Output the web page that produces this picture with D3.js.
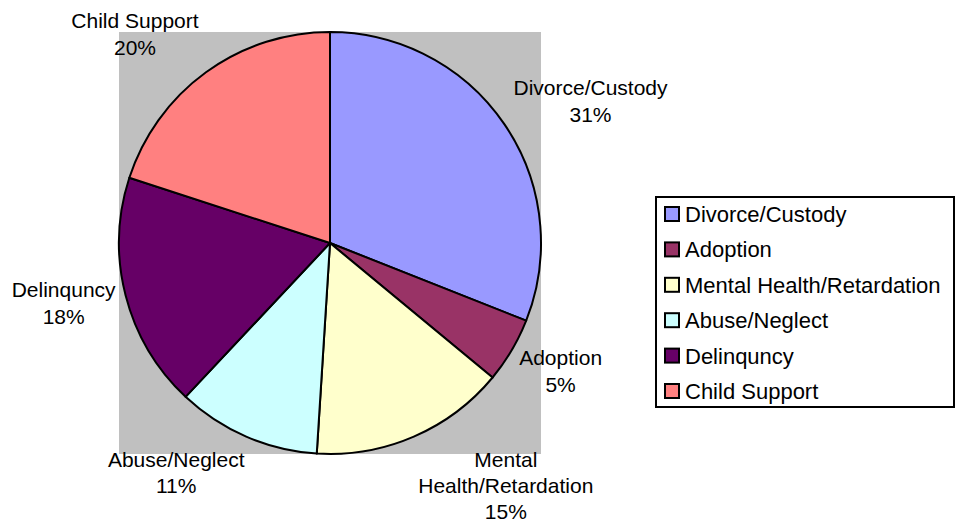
<!DOCTYPE html>
<html>
<head>
<meta charset="utf-8">
<script src="https://cdn.jsdelivr.net/npm/d3@7"></script>
<style>
body { margin: 0; background: #fff; }
svg { display: block; font-family: "Liberation Sans", Arial, sans-serif; }
</style>
</head>
<body>
<svg></svg>
<script>
var categories = ['Divorce/Custody', 'Adoption', 'Mental Health/Retardation', 'Abuse/Neglect', 'Delinqu' + 'ncy', 'Child Support'];
var shares = [31, 5, 15, 11, 18, 20];
var colors = ['#9999FF', '#993366', '#FFFFCC', '#CCFFFF', '#660066', '#FF8080'];
// label text, wrapped the way the source chart wraps it
var labelLines = [
    ['Divorce/Custody', '31%'],
    ['Adoption', '5%'],
    ['Mental', 'Health/Retardation', '15%'],
    ['Abuse/Neglect', '11%'],
    ['Delinqu' + 'ncy', '18%'],
    ['Child Support', '20%']
];

var data = categories.map(function (c, i) {
    return { name: c, value: shares[i], color: colors[i], lines: labelLines[i] };
});

render(data);

function render(data) {
    var W = 957, H = 522;
    var cx = 330, cy = 243, r = 211;
    var lh = 26.3;

    var root = d3.select('svg')
        .attr('width', W)
        .attr('height', H);

    root.append('rect')
        .attr('x', cx - r).attr('y', cy - r)
        .attr('width', 2 * r).attr('height', 2 * r)
        .attr('fill', '#C0C0C0');

    var pie = d3.pie()
        .sort(null)
        .value(function (d) { return d.value; });
    var arc = d3.arc().innerRadius(0).outerRadius(r);
    var arcs = pie(data);

    var g = root.append('g')
        .attr('transform', 'translate(' + cx + ',' + cy + ')');

    g.selectAll('path.slice')
        .data(arcs)
        .enter()
        .append('path')
        .attr('class', 'slice')
        .attr('d', arc)
        .attr('fill', function (d) { return d.data.color; })
        .attr('stroke', '#000')
        .attr('stroke-width', 2)
        .attr('stroke-linejoin', 'round');

    // labels sit outside the rim; nudges (from the rim point, to the first baseline)
    // mimic Excel's best-fit placement
    var shift = [[86, -29], [49, 15], [92, 30], [-70, 30], [-62, 2], [-71, -44]];
    var edge = d3.arc().innerRadius(r).outerRadius(r);

    var labels = g.selectAll('text.lbl')
        .data(arcs)
        .enter()
        .append('text')
        .attr('class', 'lbl')
        .attr('font-size', 21)
        .attr('text-anchor', 'middle')
        .attr('fill', '#000');

    labels.each(function (d, i) {
        var p = edge.centroid(d);
        var x = p[0] + shift[i][0];
        var y = p[1] + shift[i][1];
        d3.select(this).selectAll('tspan')
            .data(d.data.lines)
            .enter()
            .append('tspan')
            .attr('x', x)
            .attr('y', function (t, j) { return y + j * lh; })
            .text(function (t) { return t; });
    });

    // legend
    var lx = 656, ly = 197, lw = 298, lhgt = 210, rowH = 35.4;
    var legend = root.append('g');
    legend.append('rect')
        .attr('x', lx).attr('y', ly)
        .attr('width', lw).attr('height', lhgt)
        .attr('fill', '#fff')
        .attr('stroke', '#000')
        .attr('stroke-width', 2);

    var items = legend.selectAll('g.item')
        .data(data)
        .enter()
        .append('g')
        .attr('class', 'item')
        .attr('transform', function (d, i) {
            return 'translate(' + (lx + 9) + ',' + (ly + 17.5 + i * rowH) + ')';
        });
    items.append('rect')
        .attr('x', 0).attr('y', -7.5)
        .attr('width', 14).attr('height', 14)
        .attr('fill', function (d) { return d.color; })
        .attr('stroke', '#000')
        .attr('stroke-width', 2);
    items.append('text')
        .attr('x', 20).attr('y', 7.5)
        .attr('font-size', 22)
        .text(function (d) { return d.name; });
}
</script>
</body>
</html>
